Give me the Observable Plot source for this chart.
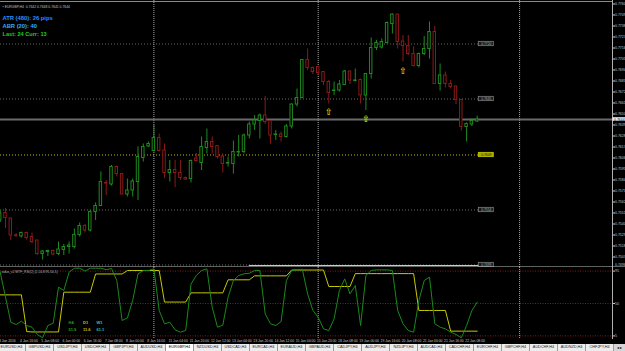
<!DOCTYPE html>
<html><head><meta charset="utf-8">
<script src="https://cdn.jsdelivr.net/npm/d3@7"></script>
<script src="https://cdn.jsdelivr.net/npm/@observablehq/plot@0.6"></script>
<style>
html,body{margin:0;padding:0;background:#000;}
#wrap{position:relative;width:625px;height:351px;overflow:hidden;background:#000;font-family:"Liberation Sans",Arial,sans-serif;}
#main,#ind{position:absolute;left:0;}
#main{top:0;} #ind{top:267px;}
#tabs{position:absolute;left:0;top:344px;width:625px;height:7px;background:#d6d6d6;}
.tab{position:absolute;top:0;height:7px;font-size:3.8px;line-height:7px;text-align:center;color:#222;border-right:1px solid #9a9a9a;box-sizing:border-box;background:#ececec;white-space:nowrap;}
.tab.active{background:#fff;color:#000;}
.arrows{position:absolute;top:0;left:614px;width:11px;height:7px;font-size:4px;line-height:7px;color:#000;background:#d6d6d6;text-align:center;}
svg{display:block;}
</style></head><body><div id="wrap"><div id="main"></div><div id="ind"></div><div id="tabs"></div></div>
<script>
// ---------------- DATA ----------------
const opens = [0.75435,0.75510,0.75455,0.75285,0.75275,0.75310,0.75270,0.75235,0.75100,0.75120,0.75130,0.75100,0.75140,0.75170,0.75170,0.75290,0.75380,0.75335,0.75520,0.75580,0.75810,0.75795,0.75970,0.75900,0.75695,0.75735,0.75820,0.76060,0.76175,0.76130,0.76260,0.76135,0.75910,0.75940,0.75910,0.75860,0.75850,0.76055,0.76010,0.76160,0.76220,0.76180,0.76075,0.76005,0.76000,0.76115,0.76120,0.76285,0.76395,0.76430,0.76485,0.76430,0.76290,0.76295,0.76270,0.76375,0.76595,0.76660,0.77040,0.76960,0.76970,0.76920,0.76820,0.76730,0.76735,0.76790,0.76925,0.76830,0.76840,0.76685,0.76900,0.77160,0.77165,0.77210,0.77400,0.77495,0.77225,0.77180,0.77100,0.76980,0.77100,0.77150,0.77320,0.76800,0.76885,0.76800,0.76775,0.76640,0.76370,0.76395,0.76425];
const highs = [0.75535,0.75555,0.75455,0.75305,0.75320,0.75320,0.75310,0.75235,0.75135,0.75140,0.75140,0.75220,0.75195,0.75220,0.75350,0.75410,0.75395,0.75535,0.75610,0.75920,0.75835,0.75985,0.75980,0.75900,0.75850,0.75850,0.76170,0.76200,0.76220,0.76385,0.76300,0.76200,0.76035,0.76035,0.76035,0.75870,0.76040,0.76105,0.76270,0.76350,0.76270,0.76185,0.76100,0.76070,0.76230,0.76285,0.76300,0.76420,0.76485,0.76500,0.76675,0.76430,0.76335,0.76320,0.76395,0.76600,0.76750,0.77040,0.77150,0.76970,0.76975,0.76925,0.76835,0.76820,0.76835,0.76935,0.76925,0.76950,0.76850,0.76900,0.77260,0.77235,0.77250,0.77420,0.77500,0.77495,0.77285,0.77285,0.77170,0.77110,0.77275,0.77420,0.77375,0.77000,0.76920,0.76835,0.76775,0.76640,0.76410,0.76455,0.76480];
const lows = [0.75415,0.75355,0.75235,0.75265,0.75260,0.75240,0.75200,0.75085,0.75040,0.75075,0.75085,0.75085,0.75085,0.75100,0.75150,0.75270,0.75310,0.75320,0.75435,0.75580,0.75685,0.75780,0.75870,0.75695,0.75670,0.75670,0.75635,0.76020,0.76165,0.76120,0.76120,0.75855,0.75820,0.75765,0.75835,0.75835,0.75810,0.76020,0.75935,0.76100,0.76100,0.76050,0.75910,0.75970,0.75900,0.76070,0.76100,0.76250,0.76335,0.76250,0.76395,0.76200,0.76235,0.76220,0.76260,0.76350,0.76570,0.76660,0.76935,0.76895,0.76885,0.76785,0.76600,0.76685,0.76720,0.76785,0.76795,0.76820,0.76600,0.76535,0.76850,0.77135,0.77150,0.77200,0.77300,0.77150,0.77020,0.77085,0.76970,0.76960,0.77085,0.77050,0.76795,0.76730,0.76760,0.76750,0.76595,0.76330,0.76220,0.76375,0.76415];
const closes = [0.75505,0.75460,0.75285,0.75280,0.75310,0.75260,0.75220,0.75100,0.75125,0.75130,0.75095,0.75145,0.75170,0.75185,0.75290,0.75380,0.75335,0.75520,0.75580,0.75820,0.75805,0.75970,0.75900,0.75695,0.75735,0.75825,0.76070,0.76170,0.76200,0.76260,0.76130,0.75910,0.75940,0.75910,0.75860,0.75845,0.76030,0.76030,0.76170,0.76220,0.76170,0.76070,0.76000,0.76010,0.76120,0.76120,0.76285,0.76395,0.76435,0.76485,0.76420,0.76285,0.76295,0.76270,0.76375,0.76595,0.76660,0.77040,0.76960,0.76920,0.76910,0.76820,0.76710,0.76735,0.76795,0.76925,0.76835,0.76835,0.76685,0.76900,0.77160,0.77210,0.77220,0.77410,0.77495,0.77220,0.77180,0.77100,0.76980,0.77100,0.77150,0.77320,0.76800,0.76885,0.76800,0.76770,0.76640,0.76370,0.76400,0.76430,0.76445];

// MTF RSI(2) sub-window, per bar
const rsiH4 = [93.5,58.8,24,20.8,25.5,19.4,17.1,6.9,2.3,19.4,22.7,72.7,68.1,93.5,99,99,95,99,99,99,97,98.5,82,26.4,30,54.2,91.2,95.8,95.8,98.1,40.3,21.8,24,13.4,10.2,12.5,77,88.9,95.8,98.1,44.9,17.1,20,58.8,81.9,88.9,91.2,92,95.8,95.8,35.6,21.8,19.4,25,81.9,95.8,96.7,97.6,63.4,40.3,31,14.8,12.5,28.7,68.1,84.2,63.4,75,19.4,88.9,95.8,96.7,96.7,96.7,95.8,40.3,21.8,12.5,10.2,54.2,81.9,86.6,21.8,17.1,14.8,10.2,7,2.3,19.4,40.3,51.9];
const rsiD1 = [62,62,62,62,62,11,10.5,10.5,10.5,10.5,10.5,10.5,65.7,65.7,65.7,65.7,65.7,65.7,91,91,91,91,91,91,95.8,95.8,95.8,95.8,95.8,95.8,95.8,52,52,52,52,52,64.8,64.8,64.8,64.8,64.8,64.8,64.8,82.9,82.9,82.9,82.9,82.9,88.4,88.4,88.4,88.4,88.4,88.4,88.4,96.5,96.5,96.5,96.5,96.5,96.5,96.5,73.6,73.6,73.6,73.6,73.6,91.5,91.5,91.5,91.5,91.5,91.5,91.5,91.5,91.5,91.5,91.5,91.5,40.3,40.3,40.3,40.3,40.3,40.3,11.6,11.6,11.6,11.6,11.6,11.6];
const rsiLevels = [95, 50, 5];

const priceTicks = [0.7760,0.7749,0.7738,0.7727,0.7716,0.7705,0.7694,0.7683,0.7672,0.7661,0.7650,0.7639,0.7628,0.7617,0.7606,0.7595,0.7584,0.7573,0.7562,0.7551,0.7540,0.7529,0.7518,0.7507];
const bottomPriceTick = 0.7496;
const hLevels = [0.7720, 0.7665, 0.7609, 0.7554, 0.7499];
const yellowLevel = 0.7609;
const weekSeparators = [29, 60];
const vLineObjects = [98];
const cyanTrend = {from: 47, to: 90, price: 0.74975};
const signalArrows = [{i: 62, price: 0.76515}, {i: 69, price: 0.76450}, {i: 76, price: 0.76925}];

const timeTickIdx = [-1,3,7,11,15,19,23,27,31,35,39,43,47,51,55,59,63,67,71,75,79,83,87];
const timeTickText = ["4 Jan 2016","4 Jan 16:00","5 Jan 08:00","6 Jan 00:00","6 Jan 16:00","7 Jan 08:00","8 Jan 00:00","8 Jan 16:00","11 Jan 04:00","11 Jan 20:00","12 Jan 12:00","13 Jan 04:00","13 Jan 20:00","14 Jan 12:00","15 Jan 04:00","15 Jan 20:00","18 Jan 08:00","19 Jan 00:00","19 Jan 16:00","20 Jan 08:00","21 Jan 00:00","21 Jan 16:00","22 Jan 08:00"];

const symbol = "EURGBP,H4";
const infoLines = ["ATR (480): 26 pips", "ABR (20): 40", "Last: 24 Curr: 13"];
const legendNames = ["H4", "D1", "W1"];
const legendValues = ["51.9", "11.6", "61.1"];
const indicatorName = "sidus_v2 MTF_RSI(2) (2,14,8,95,50,5)";
const tabNames = ["EURUSD","GBPUSD","USDJPY","USDCHF","GBPJPY","AUDUSD","EURGBP","NZDUSD","USDCAD","EURCAD","EURAUD","GBPAUD","CADJPY","AUDJPY","NZDJPY","AUDCAD","CADCHF","EURCHF","GBPCHF","AUDCHF","AUDNZD","CHFJPY"];
const activeTab = "EURGBP";

// ---------------- BUILD ----------------
const N = closes.length;
const candles = d3.range(N).map(i => ({i, open: opens[i], high: highs[i], low: lows[i], close: closes[i]}));
const lastI = N - 1;
const bid = closes[lastI];
const ind = d3.range(N).map(i => ({i, h4: rsiH4[i], d1: rsiD1[i]}));
const timeTicks = timeTickIdx.map((i, k) => ({i, label: timeTickText[k]}));

const W = 625, axisW = 13, barPx = 5.3, firstBarX = -0.3;
const plotW = W - axisW;
const xDomain = [(0 - firstBarX) / barPx, (plotW - firstBarX) / barPx];
const px = 1 / barPx; // one pixel in bar units
const MAIN_H = 267;
const pipPx = 0.0001; // one pixel in price units
const yDomain = [0.77635 - MAIN_H * pipPx, 0.77635];

const UP = "#1e8a1e", DN = "#8a1a1a";
const col = d => d.close >= d.open ? UP : DN;
const bw = 0.23;
const bodyTop = d => Math.abs(d.close - d.open) < 0.00003 ? Math.max(d.open, d.close) + 0.00003 : Math.max(d.open, d.close);
const bodyBot = d => Math.abs(d.close - d.open) < 0.00003 ? Math.min(d.open, d.close) - 0.00003 : Math.min(d.open, d.close);
const font = "Liberation Sans, Arial, sans-serif";
const levelEnd = lastI + 0.3;

const main = Plot.plot({
  width: W, height: MAIN_H,
  marginLeft: 0, marginRight: axisW, marginTop: 0, marginBottom: 0,
  x: {domain: xDomain, axis: null},
  y: {domain: yDomain, axis: null},
  style: {background: "#000", color: "#c8c8c8", fontFamily: font},
  marks: [
    Plot.ruleY(hLevels, {x1: xDomain[0], x2: levelEnd, stroke: d => d === yellowLevel ? "#b8b800" : "#6a6a6a", strokeDasharray: "1,2"}),
    Plot.ruleX(weekSeparators, {stroke: "#a8a8a8", strokeDasharray: "1,1"}),
    Plot.ruleX(vLineObjects, {stroke: "#a8a8a8", strokeDasharray: "1,1"}),
    Plot.ruleY([bid], {x1: xDomain[0], x2: xDomain[1], stroke: "#6a6a6a", strokeWidth: 2}),
    Plot.ruleX(candles, {x: "i", y1: "low", y2: "high", stroke: col}),
    Plot.rect(candles, {x1: d => d.i - bw, x2: d => d.i + bw, y1: bodyBot, y2: bodyTop, fill: "#000", stroke: col}),
    Plot.text(signalArrows, {x: "i", y: "price", text: () => "⇧", fill: "#ffff00", fontSize: 9, fontFamily: "DejaVu Sans"}),
    Plot.rect(hLevels, {x1: levelEnd, x2: levelEnd + 15 * px, y1: d => d - 0.00022, y2: d => d + 0.00022,
      fill: d => d === yellowLevel ? "#a8a800" : "#1a1a1a", stroke: d => d === yellowLevel ? "#d0d000" : "#8a8a8a", strokeWidth: 0.7}),
    Plot.text(hLevels, {x: levelEnd + 7.5 * px, y: d => d, text: d => d.toFixed(4), fontSize: 3.3,
      fill: d => d === yellowLevel ? "#202000" : "#b0b0b0"}),
    Plot.ruleY([yDomain[1] - 1 * pipPx], {stroke: "#8a8a8a"}),
    Plot.ruleX([xDomain[1]], {stroke: "#b0b0b0"}),
    Plot.ruleY([yDomain[0] + 0.5 * pipPx], {x1: xDomain[0], x2: xDomain[1] + axisW * px, stroke: "#c4c4c4"}),
    Plot.ruleY([cyanTrend.price + 0.0001], {x1: cyanTrend.from, x2: cyanTrend.to + 0.3, stroke: "#8fe0e8"}),
    Plot.axisY(priceTicks, {anchor: "right", tickSize: 2, tickPadding: 0.5, fontSize: 3.5, tickFormat: d => d.toFixed(4), color: "#c8c8c8"}),
    Plot.text([bottomPriceTick], {x: xDomain[1] + 2.5 * px, y: d => d, dy: -3, text: d => d.toFixed(4), textAnchor: "start", fontSize: 3.5, fill: "#c8c8c8"}),
    Plot.rect([bid], {x1: xDomain[1] + 0.5 * px, x2: xDomain[1] + axisW * px, y1: d => d - 0.00018, y2: d => d + 0.00018, fill: "#f0f0f0"}),
    Plot.text([bid], {x: xDomain[1] + 1.5 * px, y: d => d, text: d => d.toFixed(4), textAnchor: "start", fontSize: 3.5, fill: "#000"}),
    Plot.text([`▪ ${symbol}  ${opens[lastI].toFixed(4)} ${highs[lastI].toFixed(4)} ${lows[lastI].toFixed(4)} ${closes[lastI].toFixed(4)}`],
      {frameAnchor: "top-left", dx: 2, dy: 5, fontSize: 3.4, fill: "#c0c0c0", textAnchor: "start"}),
    Plot.text([infoLines[0]], {frameAnchor: "top-left", dx: 2, dy: 15, fontSize: 5.8, fontWeight: "bold", fill: "#2a8fff", textAnchor: "start"}),
    Plot.text([infoLines[1]], {frameAnchor: "top-left", dx: 2, dy: 23.5, fontSize: 5.8, fontWeight: "bold", fill: "#33aaff", textAnchor: "start"}),
    Plot.text([infoLines[2]], {frameAnchor: "top-left", dx: 2, dy: 31.5, fontSize: 5.6, fontWeight: "bold", fill: "#22cc22", textAnchor: "start"})
  ]
});
document.getElementById("main").appendChild(main);

const legendDx = [68, 82.5, 96];
const legendColors = ["#1faa1f", "#c8c800", "#22c8c8"];
const indicator = Plot.plot({
  width: W, height: 77,
  marginLeft: 0, marginRight: axisW, marginTop: 0, marginBottom: 5,
  x: {domain: xDomain, axis: null},
  y: {domain: [0, 100], axis: null},
  style: {background: "#000", color: "#c8c8c8", fontFamily: font},
  marks: [
    Plot.ruleY(rsiLevels, {x1: xDomain[0], x2: xDomain[1], stroke: "#8b1a1a", strokeDasharray: "1,1.5"}),
    Plot.ruleX(weekSeparators, {stroke: "#a8a8a8", strokeDasharray: "1,1"}),
    Plot.ruleX(vLineObjects, {stroke: "#a8a8a8", strokeDasharray: "1,1"}),
    Plot.line(ind, {x: "i", y: "d1", stroke: "#c8c800", strokeWidth: 1}),
    Plot.line(ind, {x: "i", y: "h4", stroke: "#1a8a1a", strokeWidth: 1}),
    Plot.ruleX([xDomain[1]], {stroke: "#b0b0b0"}),
    Plot.axisY(rsiLevels, {anchor: "right", tickSize: 2, tickPadding: 0.5, fontSize: 3.5, color: "#c8c8c8"}),
    Plot.text(timeTicks, {x: "i", text: "label", frameAnchor: "bottom", dy: 2, dx: 4, textAnchor: "start", fontSize: 3.4, fill: "#c8c8c8"}),
    Plot.text([indicatorName], {frameAnchor: "top-left", dx: 1, dy: 3, fontSize: 3.3, fill: "#b8b8b8", textAnchor: "start"}),
    ...legendNames.map((n, k) => Plot.text([n], {frameAnchor: "bottom-left", dx: legendDx[k], dy: -15.7, fontSize: 4, fontWeight: "bold", fill: legendColors[k], textAnchor: "start"})),
    ...legendValues.map((v, k) => Plot.text([v], {frameAnchor: "bottom-left", dx: legendDx[k], dy: -8.3, fontSize: 4, fontWeight: "bold", fill: legendColors[k], textAnchor: "start"}))
  ]
});
document.getElementById("ind").appendChild(indicator);

const tabs = document.getElementById("tabs");
tabNames.forEach((n, k) => {
  const t = document.createElement("div");
  t.className = "tab" + (n === activeTab ? " active" : "");
  t.style.left = (-2 + 28 * k) + "px";
  t.style.width = "28px";
  t.textContent = n + ",H4";
  tabs.appendChild(t);
});
const ar = document.createElement("div");
ar.className = "arrows";
ar.textContent = "◂ ▸";
tabs.appendChild(ar);
</script></body></html>
